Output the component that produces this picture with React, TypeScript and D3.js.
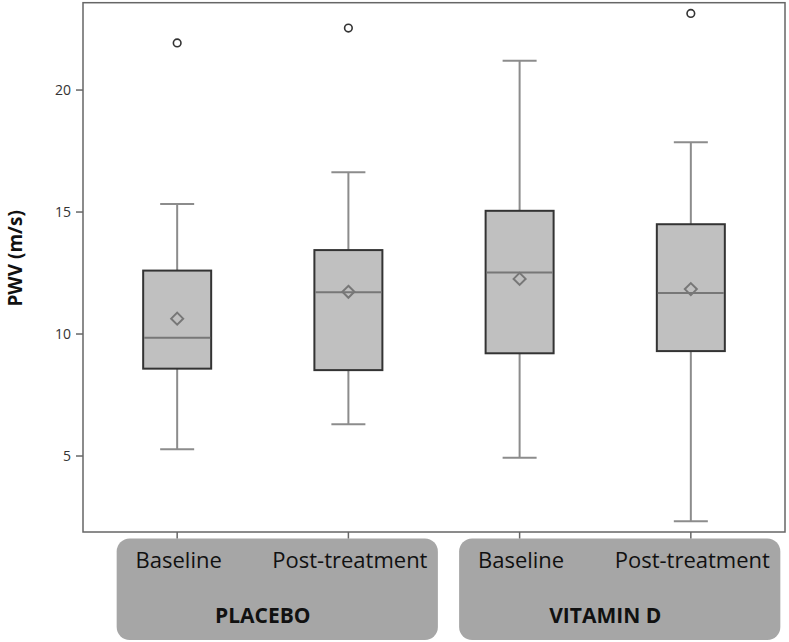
import React from "react";
import * as d3 from "d3";

const categories = ["Baseline", "Post-treatment", "Baseline ", "Post-treatment "];
const groups = ["PLACEBO", "VITAMIN D"];
const groupOf = [0, 0, 1, 1];
const whiskerLow = [5.28, 6.3, 4.93, 2.33];
const q1 = [8.58, 8.52, 9.21, 9.3];
const median = [9.85, 11.71, 12.52, 11.68];
const q3 = [12.6, 13.44, 15.05, 14.5];
const whiskerHigh = [15.33, 16.63, 21.2, 17.86];
const means = [10.63, 11.73, 12.26, 11.84];
const outliers = [[21.93], [22.54], [], [23.14]];
const yTicks = [5, 10, 15, 20];

const W = 789, H = 642;
const left = 83, right = 785, top = 2.7, bottom = 532;

export default function App() {
  const x = d3.scalePoint<string>().domain(categories).range([left, right]).padding(0.55);
  const y = d3.scaleLinear().domain([1.885, 23.58]).range([bottom, top]);
  const boxW = 68, capW = 34;
  const font = "'Open Sans', 'Liberation Sans', sans-serif";

  const groupExtents = groups.map((g, gi) => {
    const xs = categories.filter((_, i) => groupOf[i] === gi).map((c) => x(c) as number);
    return { g, x0: d3.min(xs)! - 60.5, x1: d3.max(xs)! + 89.5, cx: (d3.min(xs)! + d3.max(xs)!) / 2 };
  });

  return (
    <svg width={W} height={H} style={{ position: "absolute", left: 0, top: 0, background: "#fff" }}>
      {/* group panels */}
      {groupExtents.map((ge) => (
        <g key={ge.g}>
          <rect x={ge.x0} y={538.5} width={ge.x1 - ge.x0} height={101.5} rx={13} ry={13} fill="#a6a6a6" />
          <text x={ge.cx} y={623} textAnchor="middle" fontFamily={font} fontWeight="bold" fontSize={21} fill="#111">
            {ge.g}
          </text>
        </g>
      ))}
      {categories.map((c) => (
        <text key={"cl" + c} x={(x(c) as number) + 1.5} y={568} textAnchor="middle" fontFamily={font} fontSize={22} fill="#111">
          {c.trim()}
        </text>
      ))}

      {/* frame */}
      <rect x={left} y={top} width={right - left} height={bottom - top} fill="none" stroke="#666" strokeWidth={1.5} />

      {/* y ticks */}
      {yTicks.map((t) => (
        <g key={t}>
          <line x1={left - 7} x2={left} y1={y(t)} y2={y(t)} stroke="#666" strokeWidth={1.5} />
          <text x={left - 12} y={y(t)} dy="0.35em" textAnchor="end" fontFamily={font} fontSize={14} fill="#333">
            {t}
          </text>
        </g>
      ))}
      {/* x ticks */}
      {categories.map((c) => (
        <line key={"xt" + c} x1={x(c)} x2={x(c)} y1={bottom} y2={538.5} stroke="#666" strokeWidth={1.5} />
      ))}

      <text
        transform={`translate(22,${y(13.1)}) rotate(-90)`}
        textAnchor="middle"
        fontFamily={font}
        fontWeight="bold"
        fontSize={19}
        fill="#111"
      >
        PWV (m/s)
      </text>

      {/* boxes */}
      {categories.map((c, i) => {
        const cx = x(c) as number;
        const my = y(means[i]);
        const d = 6;
        return (
          <g key={"b" + c}>
            <line x1={cx} x2={cx} y1={y(whiskerLow[i])} y2={y(q1[i])} stroke="#8c8c8c" strokeWidth={2} />
            <line x1={cx} x2={cx} y1={y(q3[i])} y2={y(whiskerHigh[i])} stroke="#8c8c8c" strokeWidth={2} />
            <line x1={cx - capW / 2} x2={cx + capW / 2} y1={y(whiskerLow[i])} y2={y(whiskerLow[i])} stroke="#8c8c8c" strokeWidth={2} />
            <line x1={cx - capW / 2} x2={cx + capW / 2} y1={y(whiskerHigh[i])} y2={y(whiskerHigh[i])} stroke="#8c8c8c" strokeWidth={2} />
            <rect x={cx - boxW / 2} y={y(q3[i])} width={boxW} height={y(q1[i]) - y(q3[i])} fill="#c0c0c0" stroke="#333" strokeWidth={2} />
            <line x1={cx - boxW / 2 + 1} x2={cx + boxW / 2 - 1} y1={y(median[i])} y2={y(median[i])} stroke="#777" strokeWidth={2} />
            <path d={`M${cx},${my - d}L${cx + d},${my}L${cx},${my + d}L${cx - d},${my}Z`} fill="none" stroke="#777" strokeWidth={2} />
            {outliers[i].map((o, k) => (
              <circle key={k} cx={cx} cy={y(o)} r={3.8} fill="none" stroke="#333" strokeWidth={1.6} />
            ))}
          </g>
        );
      })}
    </svg>
  );
}
